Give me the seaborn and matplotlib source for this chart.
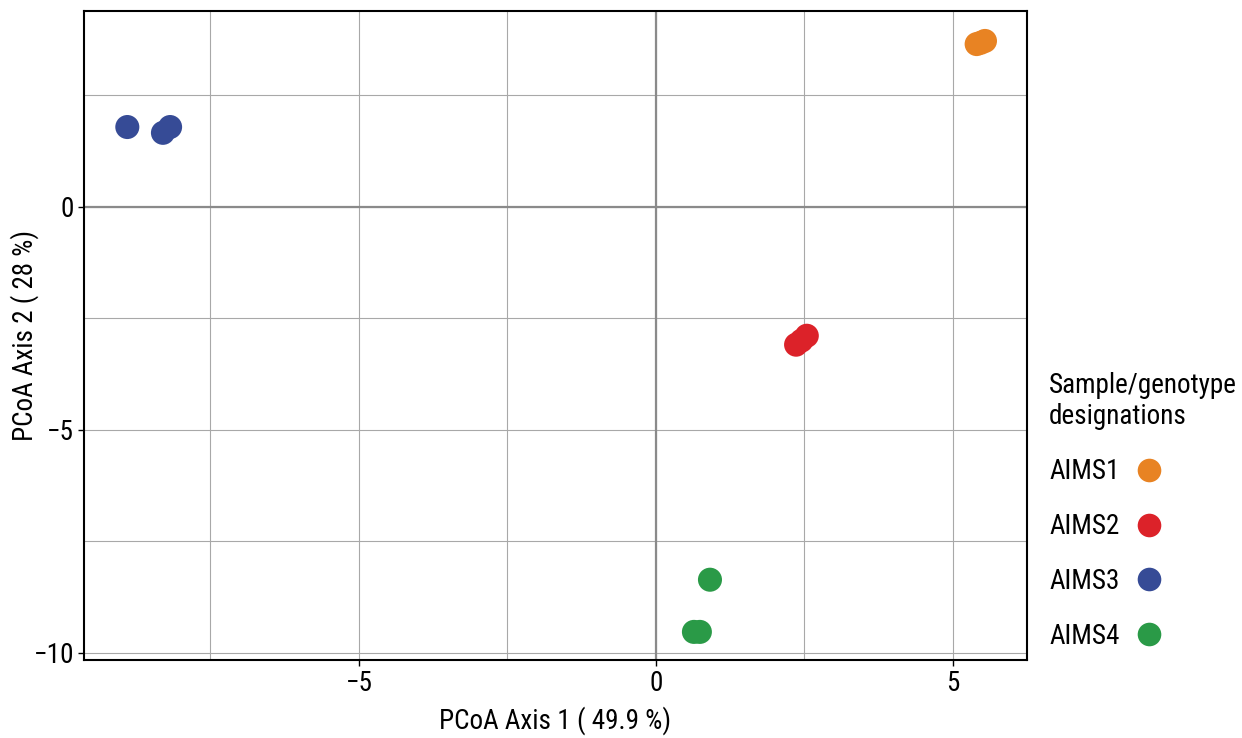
import matplotlib
matplotlib.use("Agg")
import matplotlib.pyplot as plt
import seaborn as sns
import pandas as pd
from matplotlib.ticker import MultipleLocator

# -------------------------------
# Data
# -------------------------------
groups = ["AIMS1", "AIMS1", "AIMS1",
          "AIMS2", "AIMS2", "AIMS2",
          "AIMS3", "AIMS3", "AIMS3",
          "AIMS4", "AIMS4", "AIMS4"]
axis1 = [5.40, 5.47, 5.54,
         2.36, 2.45, 2.54,
         -8.90, -8.30, -8.18,
         0.91, 0.64, 0.74]
axis2 = [3.65, 3.68, 3.72,
         -3.09, -3.00, -2.89,
         1.79, 1.66, 1.79,
         -8.36, -9.53, -9.53]
palette = {"AIMS1": "#E88323", "AIMS2": "#DC2229", "AIMS3": "#364B96", "AIMS4": "#2A9A47"}

df = pd.DataFrame({"axis1": axis1, "axis2": axis2, "group": groups})

sns.set_style("white")
plt.rcParams["font.family"] = ["Liberation Sans Narrow", "Roboto Condensed", "DejaVu Sans"]
plt.rcParams["text.color"] = "black"
plt.rcParams["axes.labelcolor"] = "black"
plt.rcParams["xtick.color"] = "black"
plt.rcParams["ytick.color"] = "black"

fig = plt.figure(figsize=(12.42, 7.38), dpi=100)
ax = fig.add_axes([0.0676, 0.1057, 0.827 - 0.0676, 0.985 - 0.1057])

sns.scatterplot(data=df, x="axis1", y="axis2", hue="group", palette=palette,
                s=300, edgecolor="none", ax=ax, zorder=3)

ax.set_xlim(-9.63, 6.25)
ax.set_ylim(-10.16, 4.39)
ax.xaxis.set_major_locator(MultipleLocator(5))
ax.yaxis.set_major_locator(MultipleLocator(5))
ax.xaxis.set_minor_locator(MultipleLocator(2.5))
ax.yaxis.set_minor_locator(MultipleLocator(2.5))
ax.grid(True, which="both", color="#a8a8a8", linewidth=0.8, zorder=0)
ax.axhline(0, color="#8a8a8a", linewidth=1.6, zorder=1)
ax.axvline(0, color="#8a8a8a", linewidth=1.6, zorder=1)
ax.set_axisbelow(True)

for s in ax.spines.values():
    s.set_color("black")
    s.set_linewidth(1.5)

ax.tick_params(which="major", direction="out", length=4, width=1, labelsize=19.5,
               bottom=True, left=True, colors="black", pad=3)
ax.tick_params(which="minor", length=0)

ax.set_xlabel("PCoA Axis 1 ( 49.9 %)", fontsize=19.5, color="black")
ax.set_ylabel("PCoA Axis 2 ( 28 %)", fontsize=19.5, color="black")
ax.xaxis.set_label_coords(0.4995, -0.072)
ax.yaxis.set_label_coords(-0.048, 0.5)

handles, labels = ax.get_legend_handles_labels()
ax.legend_.remove()
for h in handles:
    h.set_markersize(17)
leg = fig.legend(handles, labels, title="Sample/genotype\ndesignations",
                 loc="upper left", bbox_to_anchor=(1049 / 1242, 1 - 372 / 738),
                 frameon=False, markerfirst=False, fontsize=19.5, title_fontsize=19.5,
                 labelspacing=1.03, handletextpad=0.6, handlelength=1.0,
                 borderpad=0, borderaxespad=0, alignment="left", labelcolor="black")
leg.get_title().set_color("black")

fig.savefig("out.png", dpi=100)
